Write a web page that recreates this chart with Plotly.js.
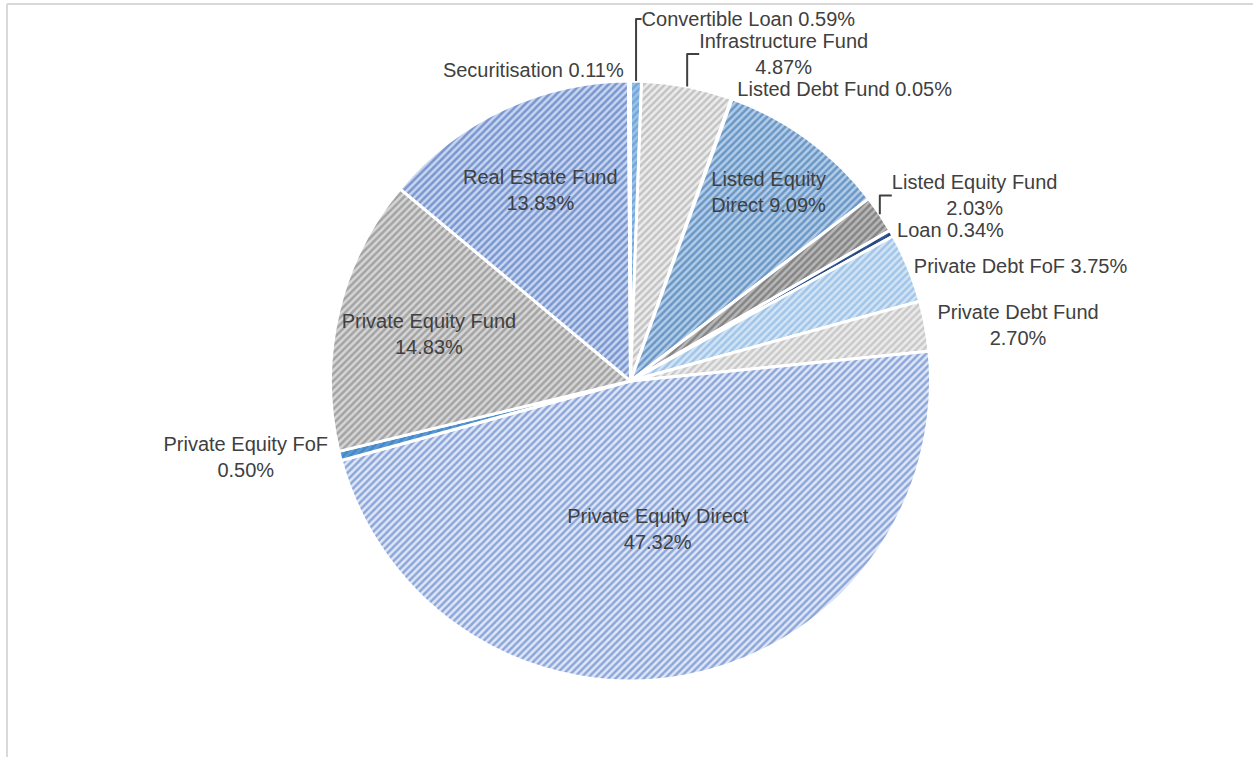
<!DOCTYPE html>
<html><head><meta charset="utf-8">
<script src="https://cdn.plot.ly/plotly-3.0.1.min.js"></script>
<style>html,body{margin:0;padding:0;background:#fff;}#chart{width:1253px;height:757px;}</style>
</head><body><div id="chart"></div>
<script>
const categories = ["Convertible Loan","Infrastructure Fund","Listed Debt Fund","Listed Equity Direct","Listed Equity Fund","Loan","Private Debt FoF","Private Debt Fund","Private Equity Direct","Private Equity FoF","Private Equity Fund","Real Estate Fund","Securitisation"];
const shares = [0.59,4.87,0.05,9.09,2.03,0.34,3.75,2.70,47.32,0.50,14.83,13.83,0.11];
const labelText = ["Convertible Loan 0.59%","Infrastructure Fund<br>4.87%","Listed Debt Fund 0.05%","Listed Equity<br>Direct 9.09%","Listed Equity Fund<br>2.03%","Loan 0.34%","Private Debt FoF 3.75%","Private Debt Fund<br>2.70%","Private Equity Direct<br>47.32%","Private Equity FoF<br>0.50%","Private Equity Fund<br>14.83%","Real Estate Fund<br>13.83%","Securitisation 0.11%"];
const fg = ["#4a8ad0","#9a9a9a","#1f5fa8","#22609f","#505050","#1f3864","#6fa6dc","#a8a8a8","#3a66bf","#2e75b6","#707070","#2a55ad","#a6a6a6"];
const bg = ["#9dc3e6","#ececec","#a9c9ea","#b3cde9","#b8b8b8","#2f5597","#d2e4f5","#ebebeb","#dfe7f6","#5b9bd5","#d6d6d6","#c8d6f0","#d9d9d9"];
const pos = ["outside","outside","outside","inside","outside","outside","outside","outside","inside","outside","inside","inside","outside"];

const W = 1253, H = 757;
const cx = 630.5, cy = 381, R = 300;
const font = {family: 'Liberation Sans, Arial, sans-serif', size: 20, color: '#404040'};
Plotly.newPlot('chart', [{
  type: 'pie',
  labels: categories,
  values: shares,
  text: labelText,
  texttemplate: '%{text}',
  textinfo: 'text',
  textposition: pos,
  insidetextorientation: 'horizontal',
  sort: false,
  direction: 'clockwise',
  rotation: 0,
  domain: {x: [(cx - R) / W, (cx + R) / W], y: [1 - (cy + R) / H, 1 - (cy - R) / H]},
  marker: {
    colors: bg,
    line: {color: '#ffffff', width: 3},
    pattern: {shape: '/', fgcolor: fg, bgcolor: bg, size: 5, solidity: 0.5, fillmode: 'overlay'}
  },
  textfont: font,
  insidetextfont: font,
  outsidetextfont: font,
  showlegend: false,
  hoverinfo: 'label+value'
}], {
  width: W, height: H,
  margin: {l: 0, r: 0, t: 0, b: 0},
  paper_bgcolor: '#ffffff',
  showlegend: false,
  shapes: [
    {type: 'line', xref: 'paper', yref: 'paper', x0: 7/W, x1: 1.01, y0: 1 - 4/H, y1: 1 - 4/H, line: {color: '#d9d9d9', width: 2}},
    {type: 'line', xref: 'paper', yref: 'paper', x0: 7/W, x1: 7/W, y0: -0.01, y1: 1 - 4/H, line: {color: '#d9d9d9', width: 2}}
  ]
}, {staticPlot: true});
</script></body></html>
